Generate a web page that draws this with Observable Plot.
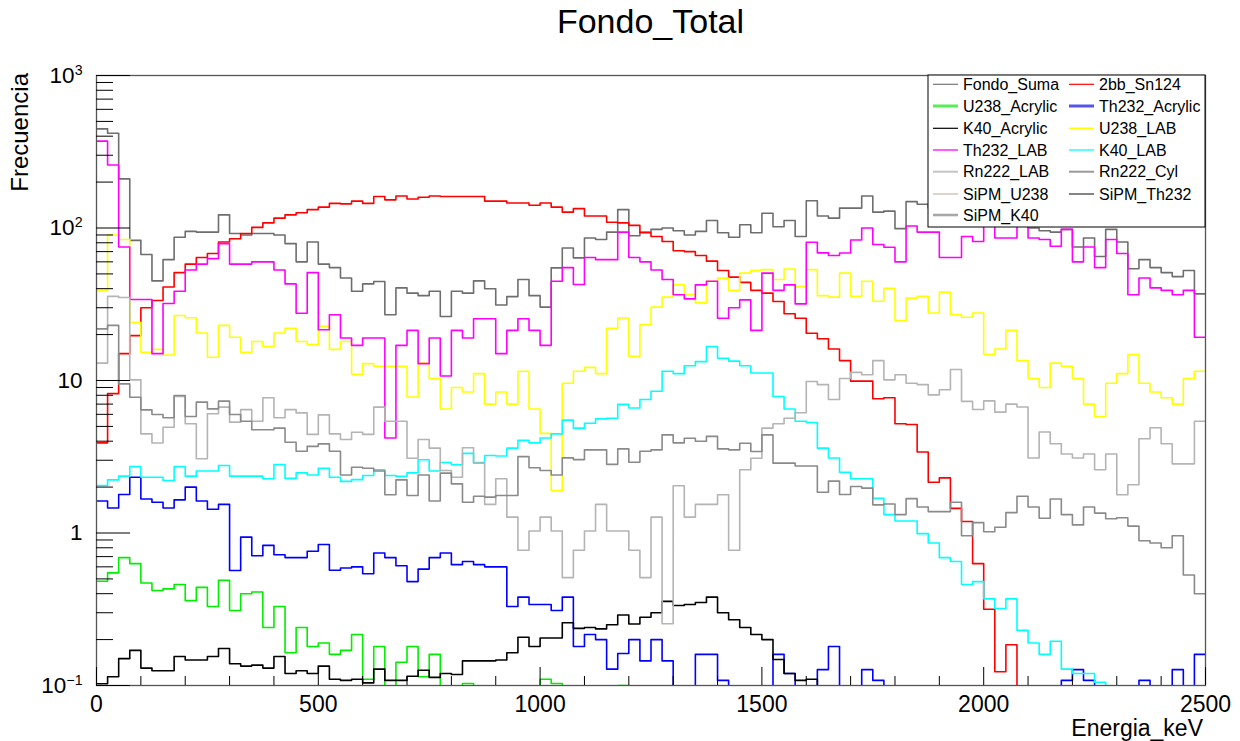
<!DOCTYPE html>
<html><head><meta charset="utf-8">
<script src="https://cdn.jsdelivr.net/npm/d3@7"></script>
<script src="https://cdn.jsdelivr.net/npm/@observablehq/plot@0.6"></script>
<style>
body{margin:0;background:#fff;font-family:"Liberation Sans",Arial,sans-serif;}
#wrap{position:relative;width:1240px;height:741px;overflow:hidden;background:#fff;}
#wrap svg{position:absolute;left:0;top:0;}
</style></head><body><div id="wrap"></div>
<script>
// 100 bins of 25 keV from 0 to 2500 keV
const binWidth = 25;
const xMajorTicks = [0, 500, 1000, 1500, 2000, 2500];
const yMajorTicks = [0.1, 1, 10, 100, 1000];

const fondoSuma = [447,418,210,83,67,45,62,87,95,94, 94,122,92,90,92,92,90,79,60,81, 58,55,47,38.5,43,
  44.6,27,40.5,37.4,36, 38.5,26.3,38.5,37.4,45, 40,31.3,35.5,46,36, 30.3,54.8,74,63.7,86, 84,94,132,89,94,
  98,100,96,90,95, 112,93,87,105,93, 125,102,112,88,151, 120,116,135,135,162, 127,129,99,149,143,
  135,120,150,125,140, 155,130,120,145,100, 96,94,98,75,86, 65,98,81,54,62, 55,51,48,52.6,37];
const sn124 = [3.9,8.2,15,19.7,30,33.5,41,51,58,64, 68,81,85,92,101,108,116,122,126,132, 137,145,144,150,145,
  161,153,162,155,159, 162,161,161,161,161, 150,150,146,146,141, 146,137,127,134,120, 120,109,108,104,93,
  88,81.5,71,70,66, 60.6,52.6,47.6,44,39, 37.4,33,27.4,25.6,20.4, 18.8,16.1,13.5,9.9,9.9, 7.6,7.7,5.2,5.15,3.4,
  2.15,2.3,1.45,1.19,0.63, 0.316,0.123,0.185,0,0, 0,0,0,0,0, 0,0,0,0,0, 0,0,0,0,0];
const u238Acrylic = [0.483,0.548,0.69,0.63,0.47,0.42,0.43,0.46,0.36,0.44, 0.33,0.49,0.31,0.40,0.41,0.24,0.33,0.164,0.24,0.18,
  0.19,0.16,0.17,0.216,0.11, 0.18,0.099,0.142,0.18,0.114, 0.16,0,0.099,0.103,0, 0,0,0,0,0, 0.11,0.103,0,0,0, 0,0,0.1,0,0,
  0,0,0,0,0, 0,0,0,0,0, 0,0,0,0,0, 0,0,0,0,0, 0,0,0,0,0,
  0,0,0,0,0, 0,0,0,0,0, 0,0,0,0,0, 0,0,0,0,0, 0,0,0,0,0];
const th232Acrylic = [1.62,1.46,1.79,2.32,1.67,1.59,1.46,1.65,2.0,1.62, 1.43,1.54,0.568,0.94,0.71,0.83,0.72,0.69,0.69,0.76,
  0.84,0.57,0.59,0.60,0.54, 0.74,0.69,0.61,0.48,0.58, 0.69,0.74,0.62,0.65,0.62, 0.60,0.60,0.33,0.38,0.34,
  0.34,0.31,0.38,0.18,0.216, 0.20,0.128,0.162,0.20,0.145, 0.20,0.145,0,0,0.16, 0.16,0.108,0,0,0,
  0,0.16,0.12,0,0, 0.127,0.18,0,0,0.127, 0.108,0,0,0,0, 0,0,0,0,0, 0,0,0,0,0,
  0,0,0.108,0.127,0.108, 0,0,0,0,0.108, 0,0,0.127,0,0.16];
const k40Acrylic = [0.1026,0.114,0.15,0.17,0.13,0.125,0.125,0.155,0.147,0.147, 0.155,0.175,0.139,0.134,0.136,0.13,0.155,0.12,0.125,0.12,
  0.134,0.11,0.108,0.11,0.104, 0.128,0.108,0.108,0.115,0.126, 0.113,0.12,0.118,0.145,0.145, 0.145,0.147,0.164,0.207,0.18,
  0.205,0.205,0.258,0.237,0.24, 0.235,0.25,0.29,0.253,0.28, 0.30,0.356,0.335,0.34,0.35, 0.38,0.30,0.27,0.24,0.216,
  0.2,0.148,0.12,0.108,0.11, 0,0,0,0,0, 0,0,0,0,0, 0,0,0,0,0, 0,0,0,0,0,
  0,0,0,0,0, 0,0,0,0,0, 0,0,0,0,0, 0,0,0,0,0];
const u238LAB = [39,90,84,24,15.3,16,14.7,26.7,25.8,20.5, 14.2,23,19.2,15.3,18,16.7,20.5,22,18,17.2, 22.7,16,18,11,12.9,
  12.4,12.4,12.4,7.8,13, 10.3,6.5,9.0,8.4,11.1, 7.0,8.4,7.0,11.5,6.5, 4.5,1.9,9.6,11.5,12.2, 11.1,22,25.7,14.4,23.2,
  30.3,35.2,42.4,36.6,32.3, 44.8,46.9,39,50.6,52.6, 53.3,46,53.8,41.3,53.3, 36,35.2,50.6,35.7,44.8, 33.1,40.3,24.7,34.7,35.7,
  27.7,38,27,26,27.7, 14.8,16.1,21.3,13.5,10.3, 9,13,12.4,10.3,7, 5.8,9.6,11.1,14.8,9.6, 8.4,7.7,7,10.3,11.5];
const th232LAB = [371,259,75,34,34,15,32,38.5,53,58, 63,79,58,58,60,60,53,43,27.6,51, 21.5,27,19,17,19,
  19,4.2,17,21.3,12.9, 19,10.7,21.3,19,25.4, 25.4,15,21.3,25.4,21.3, 17,44.8,55,42.6,64, 62,62,94,64,60,
  53,46,36.5,34.3,42.4, 44.8,25.6,30,33.8,21.3, 50.6,39,42.4,31.8,80.7, 68.7,66,68.5,83.5,100, 78,74.8,60,103,94,
  94,64,64,88,81.5, 105,86,86,110,86, 84,76,98,60,75, 55,84,68,36.5,47, 40.5,39,36.5,39,19.2];
const k40LAB = [2.05,2.23,2.36,2.73,2.32,2.32,2.21,2.73,2.36,2.55, 2.55,2.77,2.36,2.36,2.36,2.27,2.81,2.28,2.48,2.40,
  2.66,2.32,2.18,2.24,2.38, 2.6,2.38,2.35,2.48,3.02, 2.55,2.9,2.8,3.33,2.9, 3.22,3.2,3.6,4.05,3.9,
  4.2,4.47,5.5,4.87,5.25, 5.6,5.65,6.97,6.6,7.5, 8.5,11.5,11.1,12.5,13.3, 16.7,14,13.4,12.5,11.2,
  11.2,7.85,6.5,5.4,5.3, 3.6,3.1,2.5,2.27,2.27, 1.69,1.32,1.2,1.2,0.99, 0.86,0.69,0.65,0.46,0.48,
  0.37,0.32,0.37,0.23,0.19, 0.16,0.195,0.128,0.12,0.12, 0.105,0,0,0,0, 0,0,0,0,0];
const rn222LAB = [13,35.6,35,10.1,4.47,3.89,4.94,7.85,5.20,3.07, 6.05,6.69,5.33,6.44,5.41,7.7,5.70,6.44,6.13,4.43,
  5.95,4.47,4.10,4.58,4.43, 6.69,5.41,5.41,3.09,4.10, 3.60,2.57,2.32,3.62,2.87, 1.54,2.27,1.27,0.77,1.03,
  1.27,1.03,0.51,0.77,1.03, 1.54,1.03,1.03,0.77,0.51, 1.27,0.254,2.04,1.27,1.54, 1.54,1.78,0.77,2.6,3.09,
  4.87,5.2,5.66,6.15,9.85, 9.4,7.5,10.3,11.3,10.9, 13.5,10.1,10.9,9.6,9.4, 8.05,8.7,11.8,7.3,6.45,
  7.35,6.2,7.0,6.7,3.1, 4.6,3.85,3.3,3.1,3.3, 2.6,3.3,1.78,2.07,4.15, 4.9,3.85,2.84,2.84,5.4];
const rn222Cyl = [21.8,23,9.5,7.77,6.42,5.99,5.70,7.97,5.81,7.21, 6.52,7.32,5.99,5.41,4.75,4.75,4.87,3.94,3.44,3.70,
  3.84,3.44,2.40,2.70,2.66, 2.55,1.78,2.23,1.76,2.40, 1.62,2.47,2.10,1.59,1.74, 1.72,1.76,1.76,3.17,2.68,
  2.57,2.40,3.11,3.03,3.51, 3.51,2.82,3.56,2.91,3.44, 3.51,4.4,3.9,4.18,4.0, 4.3,3.56,3.51,3.88,3.42,
  4.4,2.87,2.87,2.75,2.75, 1.85,2.19,1.79,2.02,1.97, 1.53,1.55,1.32,1.68,1.48, 1.38,1.38,1.59,0.96,1.17,
  1.02,1.09,1.36,1.74,1.48, 1.25,1.67,1.32,1.13,1.48, 1.35,1.24,1.26,1.11,0.89, 0.86,0.80,0.96,0.53,0.40];
// SiPM_U238, SiPM_Th232, SiPM_K40: below the 10^-1 floor everywhere (legend only)

const drawn = [
  {name: "Fondo_Suma", values: fondoSuma, color: "#6e6e6e"},
  {name: "2bb_Sn124", values: sn124, color: "#ff0000"},
  {name: "U238_Acrylic", values: u238Acrylic, color: "#00ee00"},
  {name: "Th232_Acrylic", values: th232Acrylic, color: "#0000ff"},
  {name: "K40_Acrylic", values: k40Acrylic, color: "#000000"},
  {name: "U238_LAB", values: u238LAB, color: "#ffff00"},
  {name: "Th232_LAB", values: th232LAB, color: "#ff00ff"},
  {name: "K40_LAB", values: k40LAB, color: "#00ffff"},
  {name: "Rn222_LAB", values: rn222LAB, color: "#b4b4b4"},
  {name: "Rn222_Cyl", values: rn222Cyl, color: "#8a8a8a"}
];
const legendLeft = [
  {name: "Fondo_Suma", color: "#777", w: 1.2},
  {name: "U238_Acrylic", color: "#55ee55", w: 3},
  {name: "K40_Acrylic", color: "#000", w: 1.2},
  {name: "Th232_LAB", color: "#ff33ff", w: 1.6},
  {name: "Rn222_LAB", color: "#c4c4c4", w: 2},
  {name: "SiPM_U238", color: "#c8b8a8", w: 1.2},
  {name: "SiPM_K40", color: "#a8a8a8", w: 2.6}
];
const legendRight = [
  {name: "2bb_Sn124", color: "#ff0000", w: 1.2},
  {name: "Th232_Acrylic", color: "#5555ee", w: 3},
  {name: "U238_LAB", color: "#ffff00", w: 1.6},
  {name: "K40_LAB", color: "#33ffff", w: 1.6},
  {name: "Rn222_Cyl", color: "#999", w: 2},
  {name: "SiPM_Th232", color: "#333", w: 1.2}
];

const table = [];
drawn.forEach(s => s.values.forEach((v, i) => {
  const y = v > 0 ? v : 1e-3;
  table.push({series: s.name, x: i * binWidth, y});
  table.push({series: s.name, x: (i + 1) * binWidth, y});
}));

const xMinor = d3.range(100, 2500, 100).filter(v => v % 500 !== 0);
const yMinor = [];
[0.1, 1, 10, 100].forEach(d => { for (let k = 2; k <= 9; k++) yMinor.push(d * k); });

const fmtY = d => d === 1 ? "1" : d === 10 ? "10" : "10^" + Math.round(Math.log10(d));

const chart = Plot.plot({
  width: 1240, height: 741,
  marginLeft: 96, marginRight: 35, marginTop: 75, marginBottom: 56,
  style: {fontFamily: "Liberation Sans, Arial, sans-serif", background: "#fff", color: "#000"},
  x: {domain: [0, 2500]},
  y: {type: "log", domain: [0.1, 1000]},
  color: {domain: drawn.map(d => d.name), range: drawn.map(d => d.color)},
  marks: [
    Plot.line(table, {x: "x", y: "y", z: "series", stroke: "series", strokeWidth: 1.6, clip: true}),
    Plot.frame({stroke: "#555", strokeWidth: 1.3}),
    Plot.axisX(xMajorTicks, {tickSize: -18, tickPadding: 28, fontSize: 23, label: null, tickFormat: d => String(d)}),
    Plot.axisX(xMinor, {tickSize: -9, tickPadding: 0, label: null, tickFormat: () => ""}),
    Plot.axisY(yMajorTicks, {tickSize: -34, tickPadding: 48, fontSize: 22.5, label: null, tickFormat: fmtY}),
    Plot.axisY(yMinor, {tickSize: -17, tickPadding: 0, label: null, tickFormat: () => ""})
  ]
});
document.getElementById("wrap").appendChild(chart);

// superscript exponents on the log axis labels
d3.select(chart).selectAll('g[aria-label="y-axis tick label"] text').each(function() {
  const s = this.textContent;
  if (s.includes("^")) {
    const [base, ex] = s.split("^");
    const t = d3.select(this);
    t.text(null);
    t.append("tspan").text(base);
    t.append("tspan").attr("dy", "-0.55em").attr("font-size", "0.63em").text(ex.replace("-", "\u2212"));
  }
});

// title, axis titles and legend overlay
const ov = d3.create("svg").attr("width", 1240).attr("height", 741)
  .attr("font-family", "Liberation Sans, Arial, sans-serif");
ov.append("text").attr("x", 650.5).attr("y", 33).attr("text-anchor", "middle")
  .attr("font-size", 34).text("Fondo_Total");
ov.append("text").attr("x", 1203).attr("y", 736).attr("text-anchor", "end")
  .attr("font-size", 23).text("Energia_keV");
ov.append("text").attr("transform", "translate(28,73) rotate(-90)").attr("text-anchor", "end")
  .attr("font-size", 24).text("Frecuencia");

const lg = ov.append("g");
lg.append("rect").attr("x", 928).attr("y", 75).attr("width", 277).attr("height", 152)
  .attr("fill", "#fff").attr("stroke", "#000").attr("stroke-width", 1);
const rowY = [84.3, 106, 128.3, 150, 171.7, 194, 215];
function entries(list, x0) {
  list.forEach((e, i) => {
    lg.append("line").attr("x1", x0).attr("x2", x0 + 25).attr("y1", rowY[i]).attr("y2", rowY[i])
      .attr("stroke", e.color).attr("stroke-width", e.w);
    lg.append("text").attr("x", x0 + 30).attr("y", rowY[i]).attr("dy", "0.36em")
      .attr("font-size", 16).text(e.name);
  });
}
entries(legendLeft, 933);
entries(legendRight, 1069);
document.getElementById("wrap").appendChild(ov.node());
</script></body></html>
